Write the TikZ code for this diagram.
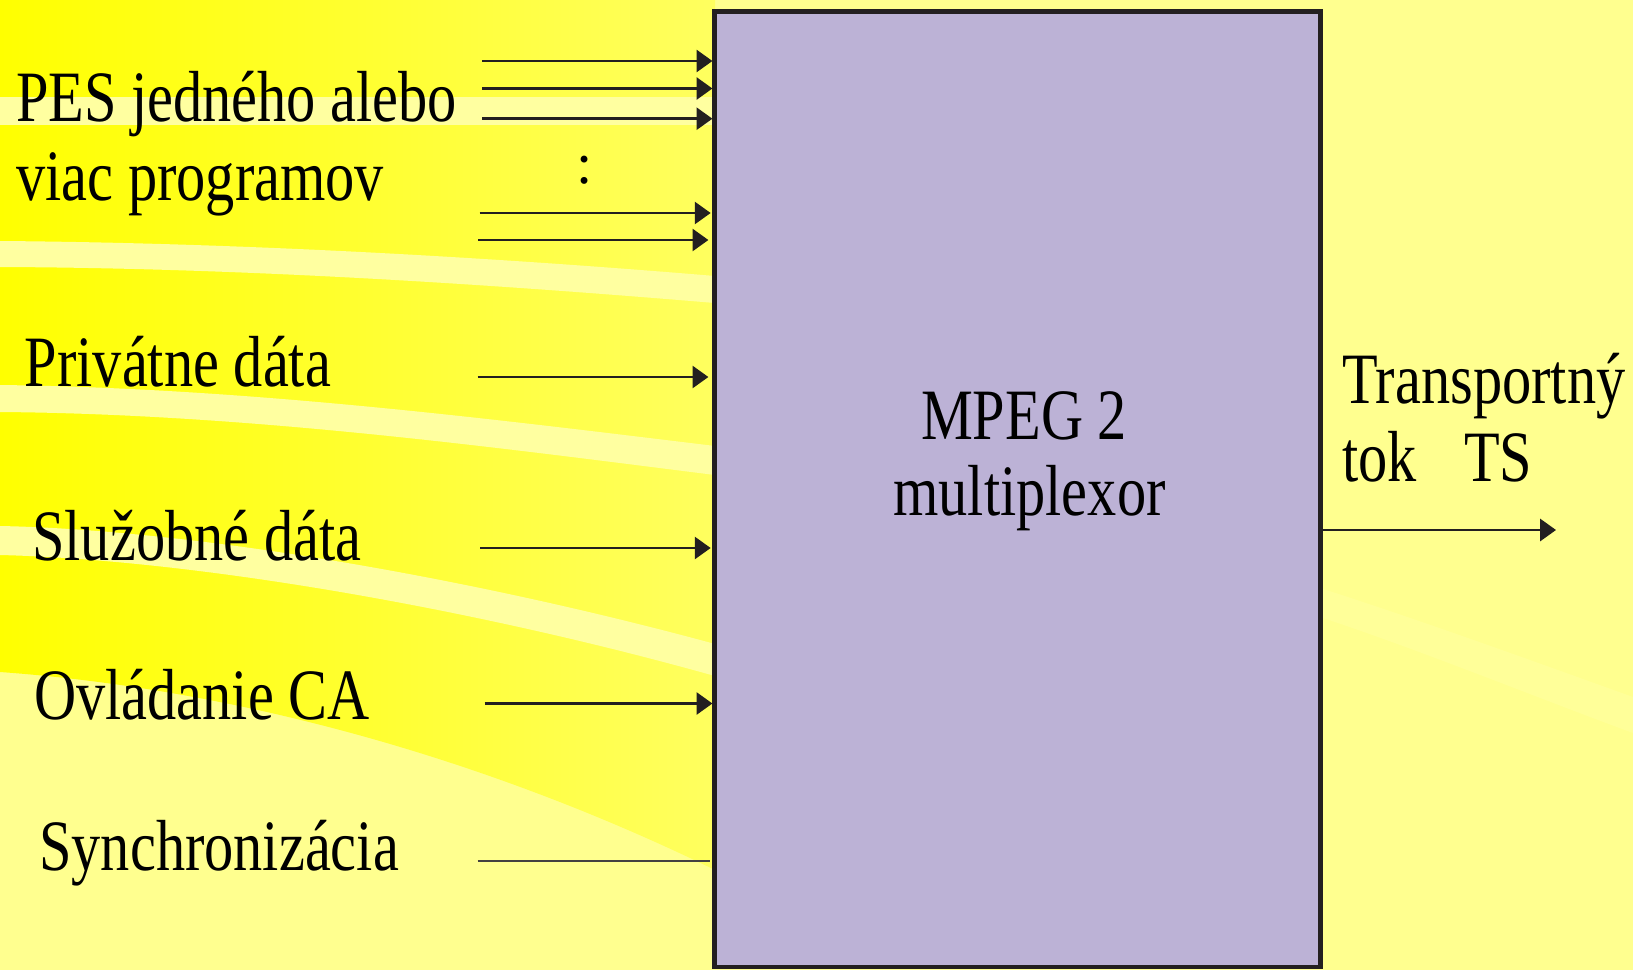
\documentclass[tikz,border=0pt]{standalone}
\usepackage{fontspec}
\setmainfont{Liberation Serif}
\usepackage{graphicx}
\usetikzlibrary{arrows.meta}

\definecolor{inkdark}{RGB}{35,31,32}
\definecolor{muxfill}{RGB}{188,178,214}
\definecolor{paleyel}{RGB}{255,255,143}
\definecolor{stripeyel}{RGB}{255,255,160}
\definecolor{strongyel}{RGB}{255,255,0}
\definecolor{midyel}{RGB}{255,255,95}

% slide lettering is set a little taller than it is wide
\newcommand{\stretchtxt}[1]{\scalebox{1}[1.24]{#1}}

\begin{document}
\begin{tikzpicture}[x=0.02cm, y=-0.02cm,
  lbl/.style={anchor=base west, inner sep=0pt, font=\fontsize{33.2pt}{40pt}\selectfont},
  ctr/.style={anchor=base, inner sep=0pt, font=\fontsize{33.2pt}{40pt}\selectfont},
  feed/.style={draw=inkdark, line width=1.5pt, -{Triangle[length=9pt,width=12.5pt]}},
  plainline/.style={draw=inkdark!85, line width=0.95pt},
  mux/.style={draw=inkdark, fill=muxfill, line width=2.55pt, inner sep=0pt,
              minimum width=12.12cm, minimum height=19.11cm},
  bandfill/.style={fill=stripeyel, draw=none}]

\useasboundingbox (0,0) rectangle (1633,970);

% ---- background ----
\fill[paleyel] (0,0) rectangle (1633,970);
\shade[left color=strongyel, right color=midyel]
  (0,0) -- (715,0) -- (715,870)
  .. controls (500,765) and (250,690) .. (0,672) -- cycle;
\fill[bandfill] (0,97) rectangle (715,125);
\fill[bandfill] (0,241) .. controls (250,243) and (500,258) .. (715,276)
  -- (715,303) .. controls (500,285) and (250,268) .. (0,267) -- cycle;
\fill[bandfill] (0,385) .. controls (250,388) and (500,420) .. (715,446)
  -- (715,475) .. controls (500,448) and (250,414) .. (0,412) -- cycle;
\fill[bandfill] (0,526) .. controls (200,530) and (480,580) .. (715,644)
  -- (715,676) .. controls (480,610) and (200,560) .. (0,555) -- cycle;
\fill[stripeyel!60!paleyel] (1320,588) .. controls (1420,620) and (1530,660) .. (1633,697)
  -- (1633,733) .. controls (1530,695) and (1420,650) .. (1320,617) -- cycle;

% ---- multiplexer block ----
\node[mux] (box) at (1017.6,489.2) {};
\node[ctr] (title1) at (1024,439.5) {\stretchtxt{MPEG 2}};
\node[ctr] (title2) at (1029.5,515.5) {\stretchtxt{multiplexor}};

% ---- input labels ----
\node[lbl] (pes1) at (16,121.5) {\stretchtxt{PES jedného alebo}};
\node[lbl] (pes2) at (16,200) {\stretchtxt{viac programov}};
\node[ctr] (more) at (585,183) {:};
\node[lbl] (priv) at (24.5,386) {\stretchtxt{Privátne dáta}};
\node[lbl] (serv) at (32,560) {\stretchtxt{Služobné dáta}};
\node[lbl] (ca)   at (34,719) {\stretchtxt{Ovládanie CA}};
\node[lbl] (sync) at (39,870) {\stretchtxt{Synchronizácia}};

% ---- output label ----
\node[lbl] (ts1) at (1342,403) {\stretchtxt{Transportný}};
\node[lbl] (ts2) at (1342,481) {\stretchtxt{tok\hspace{27pt}TS}};

% ---- input feeds ----
\coordinate (in1) at (482,61);
\coordinate (in2) at (482,88.5);
\coordinate (in3) at (482,118.7);
\coordinate (in4) at (479.5,213);
\coordinate (in5) at (478,240);
\coordinate (in6) at (477.5,377);
\coordinate (in7) at (480,548);
\coordinate (in8) at (484.5,703.5);
\coordinate (in9) at (477.5,861);
\coordinate (tsEnd) at (1556,530);

\draw[feed] (in1) -- (in1 -| box.west);
\draw[feed] (in2) -- (in2 -| box.west);
\draw[feed] (in3) -- (in3 -| box.west);
\draw[feed, shorten >=1pt] (in4) -- (in4 -| box.west);
\draw[feed, shorten >=2.3pt] (in5) -- (in5 -| box.west);
\draw[feed, shorten >=2.3pt] (in6) -- (in6 -| box.west);
\draw[feed, shorten >=1pt] (in7) -- (in7 -| box.west);
\draw[feed] (in8) -- (in8 -| box.west);
\draw[plainline, shorten >=1.5pt] (in9) -- (in9 -| box.west);

% ---- output stream ----
\draw[feed] (box.east |- tsEnd) -- (tsEnd);
\end{tikzpicture}
\end{document}
